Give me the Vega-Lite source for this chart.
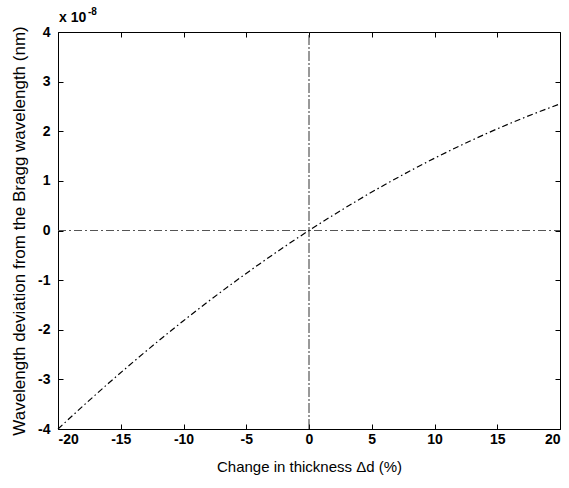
{
  "$schema": "https://vega.github.io/schema/vega-lite/v6.json",
  "width": 502,
  "height": 397,
  "autosize": "none",
  "padding": {"left": 58, "top": 32, "right": 9, "bottom": 59},
  "background": "white",
  "config": {
    "view": {"stroke": "black", "strokeWidth": 1},
    "font": "Liberation Sans",
    "axis": {
      "grid": false,
      "domain": false,
      "offset": -5,
      "tickSize": 5,
      "tickColor": "black",
      "labelColor": "black",
      "labelFont": "Liberation Sans",
      "labelFontSize": 14,
      "labelFontWeight": "bold",
      "labelExpr": "replace(datum.label, '−', '-')",
      "titleFont": "Liberation Sans",
      "titleFontWeight": "normal",
      "titleColor": "black"
    }
  },
  "datasets": {
    "curve": [
      {"d": -20, "w": -4.0},
      {"d": -18, "w": -3.535},
      {"d": -16, "w": -3.084},
      {"d": -14, "w": -2.648},
      {"d": -12, "w": -2.226},
      {"d": -10, "w": -1.819},
      {"d": -8, "w": -1.426},
      {"d": -6, "w": -1.048},
      {"d": -4, "w": -0.684},
      {"d": -2, "w": -0.335},
      {"d": 0, "w": 0.0},
      {"d": 2, "w": 0.32},
      {"d": 4, "w": 0.626},
      {"d": 6, "w": 0.917},
      {"d": 8, "w": 1.194},
      {"d": 10, "w": 1.456},
      {"d": 12, "w": 1.704},
      {"d": 14, "w": 1.937},
      {"d": 16, "w": 2.156},
      {"d": 18, "w": 2.36},
      {"d": 20, "w": 2.55}
    ],
    "hline": [{"d": -20, "w": 0}, {"d": 20, "w": 0}],
    "vline": [{"d": 0, "w": -4}, {"d": 0, "w": 4}],
    "note": [{"d": -20, "w": 4, "t": "x 10", "s": "-8"}]
  },
  "layer": [
    {
      "data": {"name": "hline"},
      "mark": {"type": "line", "color": "#555555", "strokeWidth": 1, "strokeDash": [8, 3, 2, 3]},
      "encoding": {
        "x": {"field": "d", "type": "quantitative", "scale": {"domain": [-20, 20], "nice": false}, "axis": {"orient": "bottom", "values": [-20, -15, -10, -5, 0, 5, 10, 15, 20], "labelPadding": 3, "title": "Change in thickness Δd (%)", "titleFontSize": 15, "titlePadding": 13}},
        "y": {"field": "w", "type": "quantitative", "scale": {"domain": [-4, 4], "nice": false}, "axis": {"orient": "left", "values": [-4, -3, -2, -1, 0, 1, 2, 3, 4], "labelPadding": 8, "title": "Wavelength deviation from the Bragg wavelength (nm)", "titleFontSize": 17, "titlePadding": 9}}
      }
    },
    {
      "data": {"name": "vline"},
      "mark": {"type": "line", "color": "#333333", "strokeWidth": 1, "strokeDash": [10, 2, 2, 2]},
      "encoding": {
        "x": {"field": "d", "type": "quantitative", "scale": {"domain": [-20, 20], "nice": false}, "axis": {"orient": "top", "values": [-20, -15, -10, -5, 0, 5, 10, 15, 20], "labels": false, "title": null}},
        "y": {"field": "w", "type": "quantitative", "scale": {"domain": [-4, 4], "nice": false}, "axis": {"orient": "right", "values": [-4, -3, -2, -1, 0, 1, 2, 3, 4], "labels": false, "title": null}}
      }
    },
    {
      "data": {"name": "curve"},
      "mark": {"type": "line", "color": "black", "strokeWidth": 1.2, "strokeDash": [6, 3, 1.5, 3], "interpolate": "monotone"},
      "encoding": {
        "x": {"field": "d", "type": "quantitative", "scale": {"domain": [-20, 20], "nice": false}, "axis": null},
        "y": {"field": "w", "type": "quantitative", "scale": {"domain": [-4, 4], "nice": false}, "axis": null}
      }
    },
    {
      "data": {"name": "note"},
      "mark": {"type": "text", "align": "left", "baseline": "alphabetic", "dx": 1, "dy": -10, "fontSize": 14, "fontWeight": "bold", "color": "black", "font": "Liberation Sans"},
      "encoding": {
        "x": {"field": "d", "type": "quantitative", "scale": {"domain": [-20, 20], "nice": false}, "axis": null},
        "y": {"field": "w", "type": "quantitative", "scale": {"domain": [-4, 4], "nice": false}, "axis": null},
        "text": {"field": "t"}
      }
    },
    {
      "data": {"name": "note"},
      "mark": {"type": "text", "align": "left", "baseline": "alphabetic", "dx": 30, "dy": -17, "fontSize": 10, "fontWeight": "bold", "color": "black", "font": "Liberation Sans"},
      "encoding": {
        "x": {"field": "d", "type": "quantitative", "scale": {"domain": [-20, 20], "nice": false}, "axis": null},
        "y": {"field": "w", "type": "quantitative", "scale": {"domain": [-4, 4], "nice": false}, "axis": null},
        "text": {"field": "s"}
      }
    }
  ],
  "resolve": {"scale": {"x": "independent", "y": "independent"}, "axis": {"x": "independent", "y": "independent"}}
}
